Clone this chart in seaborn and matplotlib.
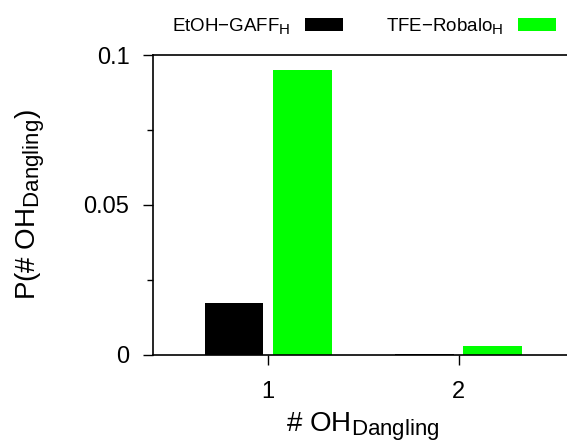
import matplotlib
matplotlib.use("Agg")
import matplotlib.pyplot as plt
import matplotlib._mathtext as _mt
import seaborn as sns
import pandas as pd
from matplotlib.patches import Patch

categories = ["1", "2"]
series_names = ["EtOH\u2212GAFF$_\\mathregular{H}$", "TFE\u2212Robalo$_\\mathregular{H}$"]
etoh_values = [0.0171, 0.0002]
tfe_values = [0.0950, 0.0027]
colors = ["#000000", "#00ff00"]
y_ticks = [0, 0.05, 0.1]
y_tick_labels = ["0", "0.05", "0.1"]

sns.set_theme(style="ticks")
plt.rcParams["font.family"] = ["Liberation Sans", "DejaVu Sans"]
plt.rcParams["mathtext.default"] = "regular"
for k in ["text.color", "axes.labelcolor", "xtick.color", "ytick.color",
          "xtick.labelcolor", "ytick.labelcolor", "axes.edgecolor"]:
    plt.rcParams[k] = "black"
_mt.SHRINK_FACTOR = 0.8

df = pd.DataFrame({
    "x": categories * 2,
    "series": [series_names[0]] * 2 + [series_names[1]] * 2,
    "value": etoh_values + tfe_values,
})

fig = plt.figure(figsize=(5.67, 4.44), dpi=100)
ax = fig.add_axes([153 / 567, 1 - 354.5 / 444, 1.01 - 153 / 567, (354.5 - 55) / 444])

sns.barplot(data=df, x="x", y="value", hue="series", palette=colors,
            width=0.72, gap=0.14, saturation=1, ax=ax, legend=False,
            edgecolor="none", linewidth=0)

ax.set_xlim(-0.606, 1.6)
ax.set_ylim(0, 0.1)
ax.set_yticks(y_ticks)
ax.set_yticklabels(y_tick_labels)
ax.set_yticks([0.025, 0.075], minor=True)
ax.tick_params(axis="both", which="major", length=7, width=1, labelsize=17, color="black",
               labelcolor="black")
ax.tick_params(axis="y", which="major", pad=10)
ax.tick_params(axis="y", which="minor", length=4, width=1, color="black")
ax.tick_params(axis="x", which="major", pad=12)
for s in ["left", "top", "bottom"]:
    ax.spines[s].set_linewidth(1.2)
    ax.spines[s].set_color("black")
ax.spines["right"].set_visible(False)

ax.set_xlabel("# OH$_\\mathregular{Dangling}$", fontsize=20, labelpad=5, color="black")
ax.set_ylabel("P(# OH$_\\mathregular{Dangling}$)", fontsize=20, labelpad=26, color="black")

handles = [Patch(facecolor=c, edgecolor="none") for c in colors]
fig.legend(handles, series_names, ncol=2, markerfirst=False, frameon=False,
           fontsize=13.5, handlelength=2.03, handleheight=0.69, handletextpad=0.75,
           columnspacing=2.3, borderpad=0, borderaxespad=0, labelcolor="black",
           loc="center left", bbox_to_anchor=(172 / 567, 1 - 26 / 444))

fig.savefig("out.png", dpi=100)
